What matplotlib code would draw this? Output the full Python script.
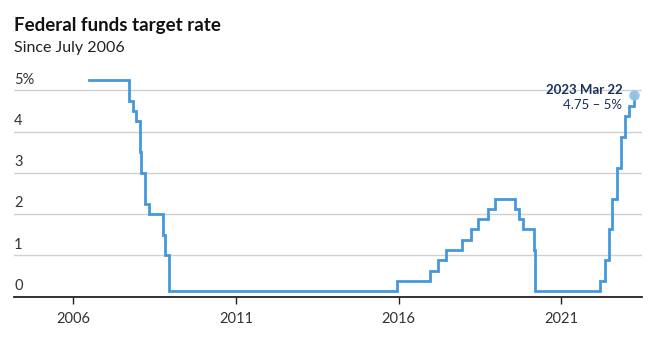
import pandas as pd
import matplotlib.pyplot as plt
import matplotlib.dates as mdates
import matplotlib.transforms as mtransforms

plt.rcParams['font.family'] = ['Lato', 'DejaVu Sans']

# Federal funds target (midpoint of the range once a range was adopted)
change_dates = [
    '2006-06-29', '2007-09-18', '2007-10-31', '2007-12-11', '2008-01-22',
    '2008-01-30', '2008-03-18', '2008-04-30', '2008-10-08', '2008-10-29',
    '2008-12-16', '2015-12-16', '2016-12-14', '2017-03-15', '2017-06-14',
    '2017-12-13', '2018-03-21', '2018-06-13', '2018-09-26', '2018-12-19',
    '2019-07-31', '2019-09-18', '2019-10-30', '2020-03-03', '2020-03-15',
    '2022-03-16', '2022-05-04', '2022-06-15', '2022-07-27', '2022-09-21',
    '2022-11-02', '2022-12-14', '2023-02-01', '2023-03-22',
]
target_rate = [
    5.25, 4.75, 4.50, 4.25, 3.50,
    3.00, 2.25, 2.00, 1.50, 1.00,
    0.125, 0.375, 0.625, 0.875, 1.125,
    1.375, 1.625, 1.875, 2.125, 2.375,
    2.125, 1.875, 1.625, 1.125, 0.125,
    0.375, 0.875, 1.625, 2.375, 3.125,
    3.875, 4.375, 4.625, 4.875,
]
start_date = '2006-07-01'
tick_years = [2006, 2011, 2016, 2021]
y_ticks = [0, 1, 2, 3, 4, 5]
y_labels = ['0', '1', '2', '3', '4', '5%']
last_label = '2023 Mar 22'
last_range = '4.75 – 5%'

dates = pd.to_datetime(change_dates)
dates = dates.where(dates >= pd.Timestamp(start_date), pd.Timestamp(start_date))

line_color = '#4598db'
navy = '#18305e'
text_gray = '#333333'

fig = plt.figure(figsize=(6.51, 3.43), dpi=100)
ax = fig.add_axes([14 / 651, 46.5 / 343, 628 / 651, 5.5 * 41.25 / 343])

ax.plot(dates, target_rate, drawstyle='steps-post', color=line_color,
        lw=2.0, solid_joinstyle='miter', zorder=3)
ax.plot(dates[-1], target_rate[-1], 'o', color='#8ec3ec', markersize=7.5,
        markeredgewidth=0, alpha=0.95, zorder=4)

ax.set_xlim(pd.Timestamp('2004-03-07'), pd.Timestamp('2023-06-25'))
ax.set_ylim(0, 5.5)

ax.set_xticks([pd.Timestamp(f'{y}-01-01') for y in tick_years])
ax.xaxis.set_major_formatter(mdates.DateFormatter('%Y'))
ax.tick_params(axis='x', length=5, width=1, color='#222222', pad=6,
               labelsize=10.5, labelcolor=text_gray)

# horizontal gridlines with their labels sitting just above each line
ax.set_yticks(y_ticks)
ax.tick_params(axis='y', length=0, labelleft=False)
ax.yaxis.grid(True, color='#d0d0d0', lw=1)
ax.set_axisbelow(True)
trans = mtransforms.blended_transform_factory(ax.transAxes, ax.transData)
for v, lab in zip(y_ticks, y_labels):
    ax.text(0, v + 0.09, lab, transform=trans, ha='left', va='bottom',
            fontsize=10.5, color=text_gray)

for side in ['top', 'right', 'left']:
    ax.spines[side].set_visible(False)
ax.spines['bottom'].set_color('#222222')
ax.spines['bottom'].set_linewidth(1.3)

ax.annotate(last_label, (dates[-1], target_rate[-1]), xytext=(-8, 4),
            textcoords='offset points', ha='right', va='center',
            fontsize=9.5, fontweight='bold', color=navy)
ax.annotate(last_range, (dates[-1], target_rate[-1]), xytext=(-8, -7),
            textcoords='offset points', ha='right', va='center',
            fontsize=9.5, color=navy)

fig.text(14 / 651, 1 - 25 / 343, 'Federal funds target rate', ha='left',
         va='center', fontsize=13.5, fontweight='bold', color='#111111')
fig.text(14 / 651, 1 - 48 / 343, 'Since July 2006', ha='left',
         va='center', fontsize=11.5, color='#222222')

fig.savefig('out.png', dpi=100, facecolor='white')
